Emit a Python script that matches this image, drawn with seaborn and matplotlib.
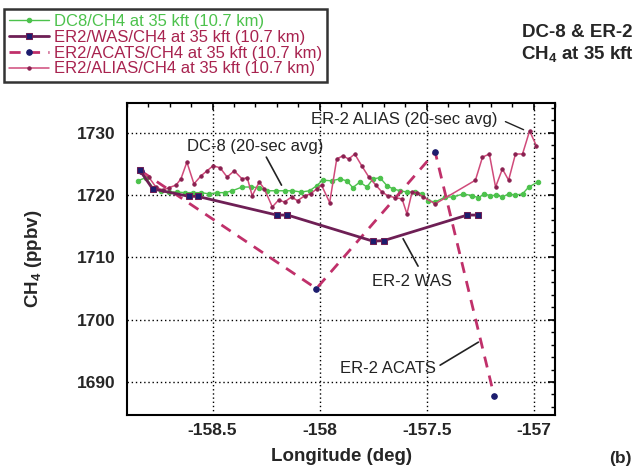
import numpy as np
import matplotlib
matplotlib.use("Agg")
import matplotlib.pyplot as plt
import seaborn as sns
from matplotlib.ticker import MultipleLocator, FuncFormatter

sns.set_style("white")
plt.rcParams['font.family'] = ['Liberation Sans', 'DejaVu Sans']
plt.rcParams['mathtext.default'] = 'regular'

# ---- data (longitude deg, CH4 ppbv) ----
dc8_lon = [-158.850, -158.812, -158.775, -158.742, -158.704, -158.667, -158.629, -158.592,
           -158.554, -158.516, -158.479, -158.441, -158.408, -158.362, -158.319, -158.282,
           -158.244, -158.202, -158.164, -158.127, -158.085, -158.047, -158.014, -157.986,
           -157.944, -157.906, -157.873, -157.845, -157.812, -157.779, -157.751, -157.718,
           -157.685, -157.657, -157.624, -157.592, -157.554, -157.521, -157.493, -157.460,
           -157.413, -157.376, -157.329, -157.286, -157.258, -157.230, -157.202, -157.174,
           -157.146, -157.117, -157.085, -157.052, -157.023, -156.981]
dc8_ch4 = [1722.3, 1722.8, 1721.0, 1720.7, 1720.5, 1720.5, 1720.4, 1720.4,
           1720.4, 1720.2, 1720.4, 1720.4, 1720.7, 1721.3, 1721.3, 1721.2,
           1720.7, 1720.7, 1720.7, 1720.7, 1720.5, 1720.7, 1721.5, 1722.4,
           1722.3, 1722.6, 1722.3, 1721.2, 1722.1, 1721.3, 1722.6, 1722.8,
           1721.5, 1721.0, 1720.7, 1720.5, 1720.5, 1720.2, 1719.1, 1718.9,
           1719.7, 1719.7, 1720.2, 1719.9, 1719.6, 1720.2, 1719.9, 1720.0,
           1719.7, 1720.2, 1720.0, 1720.2, 1721.3, 1722.1]

was_lon = [-158.84, -158.78, -158.61, -158.57, -158.20, -158.15, -157.75, -157.70, -157.31, -157.26]
was_ch4 = [1724.0, 1721.0, 1719.8, 1719.8, 1716.8, 1716.8, 1712.6, 1712.7, 1716.8, 1716.8]

acats_lon = [-158.836, -158.015, -157.460, -157.185]
acats_ch4 = [1723.9, 1705.0, 1726.9, 1687.8]

alias_lon = [-158.836, -158.798, -158.765, -158.732, -158.704, -158.671, -158.648, -158.620,
             -158.587, -158.554, -158.526, -158.498, -158.465, -158.432, -158.399, -158.362,
             -158.338, -158.315, -158.282, -158.258, -158.221, -158.192, -158.164, -158.131,
             -158.103, -158.070, -158.042, -158.014, -157.991, -157.953, -157.920, -157.892,
             -157.864, -157.836, -157.803, -157.770, -157.737, -157.709, -157.681, -157.648,
             -157.615, -157.592, -157.568, -157.545, -157.516, -157.460, -157.272, -157.239,
             -157.207, -157.178, -157.146, -157.117, -157.085, -157.052, -157.019, -156.987]
alias_ch4 = [1723.7, 1722.9, 1721.3, 1720.8, 1721.2, 1721.6, 1722.6, 1725.3,
             1721.8, 1723.1, 1723.9, 1724.7, 1724.4, 1722.9, 1723.9, 1722.6,
             1722.8, 1719.9, 1722.1, 1721.0, 1718.1, 1719.2, 1718.9, 1719.7,
             1719.1, 1719.9, 1720.2, 1721.0, 1721.6, 1718.8, 1725.8, 1726.3,
             1725.8, 1726.6, 1724.7, 1722.9, 1721.6, 1720.5, 1719.9, 1719.6,
             1719.4, 1717.0, 1720.5, 1720.4, 1719.7, 1718.6, 1722.4, 1726.1,
             1726.6, 1721.3, 1724.2, 1722.4, 1726.6, 1726.6, 1730.3, 1727.9]

labels = ["DC8/CH4 at 35 kft (10.7 km)",
          "ER2/WAS/CH4 at 35 kft (10.7 km)",
          "ER2/ACATS/CH4 at 35 kft (10.7 km)",
          "ER2/ALIAS/CH4 at 35 kft (10.7 km)"]

GREEN = '#4cc24c'
PLUM = '#6e1f55'
ROSE = '#c0306a'
PINK = '#d04a7a'
NAVY = '#1c1c6e'
TXT = '#a8234f'

fig = plt.figure(figsize=(6.38, 4.70), dpi=100)
ax = fig.add_axes([0.199, 0.117, 0.671, 0.664])

sns.lineplot(x=dc8_lon, y=dc8_ch4, ax=ax, color=GREEN, lw=1.0, marker='o', ms=3.2,
             mec=GREEN, estimator=None, sort=False, label=labels[0], zorder=3)
sns.lineplot(x=was_lon, y=was_ch4, ax=ax, color=PLUM, lw=2.0, marker='s', ms=5,
             mfc=NAVY, mec=PLUM, estimator=None, sort=False, label=labels[1], zorder=5)
sns.lineplot(x=acats_lon, y=acats_ch4, ax=ax, color=ROSE, lw=2.0, marker='o', ms=4,
             mfc=NAVY, mec=NAVY, dashes=(4, 3), estimator=None, sort=False,
             label=labels[2], zorder=4)
sns.lineplot(x=alias_lon, y=alias_ch4, ax=ax, color=PINK, lw=1.1, marker='o', ms=2.4,
             mfc='#8a2050', mec='#8a2050', estimator=None, sort=False,
             label=labels[3], zorder=4)

ax.set_xlim(-158.9, -156.9)
ax.set_ylim(1684.7, 1734.8)
ax.xaxis.set_major_locator(MultipleLocator(0.5))
ax.xaxis.set_minor_locator(MultipleLocator(0.1))
ax.yaxis.set_major_locator(MultipleLocator(10))
ax.yaxis.set_minor_locator(MultipleLocator(2))
ax.xaxis.set_major_formatter(FuncFormatter(lambda v, p: f"{v:g}"))
ax.yaxis.set_major_formatter(FuncFormatter(lambda v, p: f"{v:g}"))
ax.grid(True, which='major', color='black', linestyle=(0, (1, 2)), lw=1.0)
ax.tick_params(which='both', direction='in', top=True, right=True, color='black')
ax.tick_params(which='major', length=5, width=1.2)
ax.tick_params(axis='y', which='major', pad=8)
ax.tick_params(axis='x', which='major', pad=6)
ax.tick_params(which='minor', length=3, width=1.0)
for lab in ax.get_xticklabels() + ax.get_yticklabels():
    lab.set_fontweight('bold')
    lab.set_fontsize(12.5)
for s in ax.spines.values():
    s.set_color('black')
    s.set_linewidth(1.5)

ax.set_xlabel("Longitude (deg)", fontsize=13.5, fontweight='bold', labelpad=7)
ax.set_ylabel("CH$_4$ (ppbv)", fontsize=13.5, fontweight='bold', labelpad=24)

# annotations
ann = dict(fontsize=12, color='#222222')
ax.text(-158.038, 1732.1, "ER-2 ALIAS (20-sec avg)", ha='left', va='center', **ann)
ax.plot([-157.132, -157.047], [1731.8, 1730.5], color='#222222', lw=1.0)
ax.text(-158.620, 1727.75, "DC-8 (20-sec avg)", ha='left', va='center', **ann)
ax.plot([-158.249, -158.178], [1726.1, 1721.6], color='#222222', lw=1.2)
ax.text(-157.756, 1706.2, "ER-2 WAS", ha='left', va='center', **ann)
ax.plot([-157.610, -157.540], [1713.0, 1708.6], color='#222222', lw=1.2)
ax.text(-157.906, 1692.1, "ER-2 ACATS", ha='left', va='center', **ann)
ax.plot([-157.437, -157.258], [1692.7, 1696.4], color='#222222', lw=1.2)

handles, _ = ax.get_legend_handles_labels()
ax.get_legend().remove()
leg = fig.legend(handles, labels, loc='upper left', bbox_to_anchor=(4 / 638, 1 - 9 / 470),
                 fontsize=12, frameon=True, fancybox=False, borderaxespad=0,
                 handlelength=2.4, labelspacing=0.05, borderpad=0.3, handletextpad=0.3)
leg.get_frame().set_edgecolor('black')
leg.get_frame().set_linewidth(1.8)
for t, c in zip(leg.get_texts(), [GREEN, TXT, TXT, TXT]):
    t.set_color(c)

fig.text(0.905, 0.93, "DC-8 & ER-2", ha='center', va='center', fontsize=13.5, fontweight='bold')
fig.text(0.905, 0.885, "CH$_4$ at 35 kft", ha='center', va='center', fontsize=13.5, fontweight='bold')
fig.text(0.99, 0.025, "(b)", ha='right', va='center', fontsize=12.5, fontweight='bold')

fig.savefig("out.png", dpi=100)
